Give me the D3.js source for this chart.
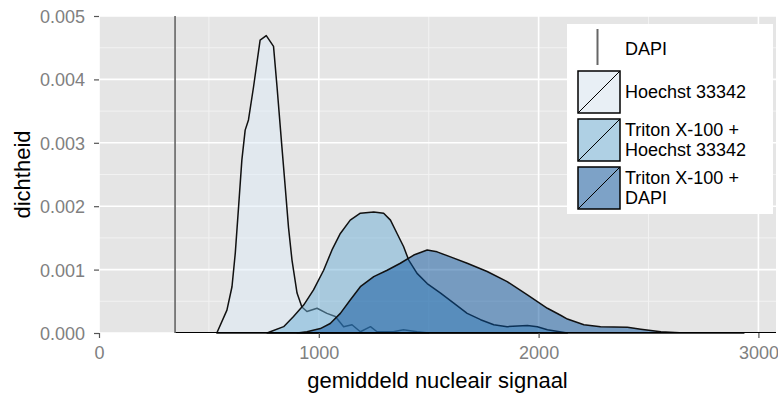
<!DOCTYPE html>
<html>
<head>
<meta charset="utf-8">
<script src="https://cdn.jsdelivr.net/npm/d3@7"></script>
<style>
  body { margin: 0; background: #fff; }
  text { font-family: "Liberation Sans", Arial, sans-serif; }
</style>
</head>
<body>
<svg id="chart" width="778" height="396"></svg>
<script>
// data
var seriesNames = ["Hoechst 33342", "Triton X-100 + Hoechst 33342", "Triton X-100 + DAPI"];
var seriesColors = ["#deebf7", "#6baed6", "#08519c"];
var dapiLine = 346;

var hoechstX = [536, 582, 605, 620, 635, 650, 665, 680, 703, 733, 761, 794, 810, 832, 847, 862, 878, 901, 923, 946, 992, 1037, 1075, 1113, 1151, 1189, 1235, 1265, 1339, 1385, 1447, 1500];
var hoechstY = [0, 0.00036, 0.00073, 0.00126, 0.00199, 0.00273, 0.00320, 0.00336, 0.00388, 0.00462, 0.00469, 0.00452, 0.00388, 0.00294, 0.00231, 0.00167, 0.00115, 0.00063, 0.00041, 0.00034, 0.00039, 0.00031, 0.00026, 0.00010, 0.00013, 0.00002, 0.00010, 0.00002, 0.00002, 0.00005, 0.00002, 0];

var tritonHoechstX = [765, 779, 840, 885, 931, 976, 1022, 1060, 1098, 1143, 1189, 1250, 1295, 1326, 1356, 1386, 1409, 1447, 1493, 1554, 1614, 1675, 1736, 1796, 1857, 1949, 1994, 2040, 2131];
var tritonHoechstY = [0, 0.00002, 0.00010, 0.00026, 0.00044, 0.00068, 0.00099, 0.00131, 0.00157, 0.00178, 0.00189, 0.00191, 0.00189, 0.00178, 0.00157, 0.00136, 0.00115, 0.00094, 0.00078, 0.00063, 0.00047, 0.00031, 0.00021, 0.00013, 0.00010, 0.00012, 0.00010, 0.00005, 0];

var tritonDapiX = [902, 946, 1007, 1052, 1098, 1143, 1189, 1250, 1311, 1371, 1432, 1493, 1538, 1599, 1675, 1766, 1857, 1949, 2040, 2100, 2131, 2206, 2282, 2404, 2465, 2556, 2662, 2934];
var tritonDapiY = [0, 0.00002, 0.00007, 0.00015, 0.00031, 0.00052, 0.00073, 0.00089, 0.00099, 0.00110, 0.00123, 0.00131, 0.00128, 0.00120, 0.00110, 0.00097, 0.00081, 0.00060, 0.00039, 0.00028, 0.00022, 0.00013, 0.00010, 0.00009, 0.00006, 0.00002, 0, 0];

var xTicks = [0, 1000, 2000, 3000];
var xMinor = [500, 1500, 2500];
var yTicks = [0, 0.001, 0.002, 0.003, 0.004, 0.005];
var yMinor = [0.0005, 0.0015, 0.0025, 0.0035, 0.0045];

var panel = { left: 99, right: 776, top: 16, bottom: 333 };

var svg = d3.select("#chart");

var xScale = d3.scaleLinear()
  .domain([0, 3080])
  .range([panel.left, panel.right]);
var yScale = d3.scaleLinear()
  .domain([0, 0.005])
  .range([panel.bottom, panel.top]);

// panel background + grid
svg.append("rect")
  .attr("x", panel.left)
  .attr("y", panel.top)
  .attr("width", panel.right - panel.left)
  .attr("height", panel.bottom - panel.top)
  .attr("fill", "#e5e5e5");

var grid = svg.append("g");
grid.selectAll(".ymin").data(yMinor).enter().append("line")
  .attr("x1", panel.left).attr("x2", panel.right)
  .attr("y1", d => yScale(d)).attr("y2", d => yScale(d))
  .attr("stroke", "#f2f2f2").attr("stroke-width", 1);
grid.selectAll(".xmin").data(xMinor).enter().append("line")
  .attr("y1", panel.top).attr("y2", panel.bottom)
  .attr("x1", d => xScale(d)).attr("x2", d => xScale(d))
  .attr("stroke", "#f2f2f2").attr("stroke-width", 1);
grid.selectAll(".ymaj").data(yTicks).enter().append("line")
  .attr("x1", panel.left).attr("x2", panel.right)
  .attr("y1", d => yScale(d)).attr("y2", d => yScale(d))
  .attr("stroke", "#fff").attr("stroke-width", 1.6);
grid.selectAll(".xmaj").data(xTicks).enter().append("line")
  .attr("y1", panel.top).attr("y2", panel.bottom)
  .attr("x1", d => xScale(d)).attr("x2", d => xScale(d))
  .attr("stroke", "#fff").attr("stroke-width", 1.6);

// densities
var allX = [hoechstX, tritonHoechstX, tritonDapiX];
var allY = [hoechstY, tritonHoechstY, tritonDapiY];

var area = d3.area()
  .x(d => xScale(d[0]))
  .y0(yScale(0))
  .y1(d => yScale(d[1]));

var dens = svg.append("g");
allX.forEach(function(xs, i) {
  var pts = xs.map((x, j) => [x, allY[i][j]]);
  dens.append("path")
    .datum(pts)
    .attr("d", d => area(d) + "Z")
    .attr("fill", seriesColors[i])
    .attr("fill-opacity", 0.5)
    .attr("stroke", "#111")
    .attr("stroke-width", 1.5)
    .attr("stroke-linejoin", "round");
});

// DAPI
svg.append("line")
  .attr("x1", xScale(dapiLine)).attr("x2", panel.right)
  .attr("y1", yScale(0) - 0.5).attr("y2", yScale(0) - 0.5)
  .attr("stroke", "#000").attr("stroke-width", 1);
svg.append("line")
  .attr("x1", xScale(dapiLine)).attr("x2", xScale(dapiLine))
  .attr("y1", panel.top).attr("y2", panel.bottom)
  .attr("stroke", "#666").attr("stroke-width", 1.6);

// axes
var xAxis = svg.append("g")
  .attr("transform", `translate(0, ${panel.bottom})`)
  .call(d3.axisBottom(xScale).tickValues(xTicks).tickSize(5).tickPadding(8).tickFormat(d3.format("d")));
var yAxis = svg.append("g")
  .attr("transform", `translate(${panel.left}, 0)`)
  .call(d3.axisLeft(yScale).tickValues(yTicks).tickSize(5).tickPadding(9).tickFormat(d3.format(".3f")));

[xAxis, yAxis].forEach(function(ax) {
  ax.select(".domain").remove();
  ax.selectAll(".tick line").attr("stroke", "#555").attr("stroke-width", 1.2);
  ax.selectAll(".tick text")
    .attr("fill", "#808080")
    .style("font-size", "18px")
    .style("font-family", "'Liberation Sans', Arial, sans-serif");
});
yAxis.selectAll(".tick text").attr("dy", "0.36em");

svg.append("text")
  .attr("x", (panel.left + panel.right) / 2)
  .attr("y", 388)
  .attr("text-anchor", "middle")
  .style("font-size", "22px")
  .text("gemiddeld nucleair signaal");

svg.append("text")
  .attr("transform", `translate(30, ${(panel.top + panel.bottom) / 2}) rotate(-90)`)
  .attr("text-anchor", "middle")
  .style("font-size", "22px")
  .text("dichtheid");

// legend
var legend = svg.append("g");
legend.append("rect")
  .attr("x", 567).attr("y", 24)
  .attr("width", 206).attr("height", 190)
  .attr("fill", "#fff");

legend.append("line")
  .attr("x1", 597.5).attr("x2", 597.5)
  .attr("y1", 29).attr("y2", 65)
  .attr("stroke", "#666").attr("stroke-width", 2);
legend.append("text")
  .attr("x", 625).attr("y", 49).attr("dy", "0.36em")
  .style("font-size", "18px")
  .text("DAPI");

var keyTops = [71, 119, 167];
var keyLabels = [["Hoechst 33342"], ["Triton X-100 +", "Hoechst 33342"], ["Triton X-100 +", "DAPI"]];
var keySize = 42;

seriesNames.forEach(function(name, i) {
  var k = legend.append("g").attr("transform", `translate(578, ${keyTops[i]})`);
  k.append("rect")
    .attr("width", keySize).attr("height", keySize)
    .attr("fill", "#f2f2f2");
  k.append("rect")
    .attr("width", keySize).attr("height", keySize)
    .attr("fill", seriesColors[i]).attr("fill-opacity", 0.5)
    .attr("stroke", "#000").attr("stroke-width", 1.5);
  k.append("line")
    .attr("x1", 0).attr("y1", keySize)
    .attr("x2", keySize).attr("y2", 0)
    .attr("stroke", "#000").attr("stroke-width", 1);
  var lines = keyLabels[i];
  var cy = keyTops[i] + keySize / 2;
  lines.forEach(function(t, j) {
    legend.append("text")
      .attr("x", 625)
      .attr("y", cy + (j - (lines.length - 1) / 2) * 20)
      .attr("dy", "0.36em")
      .style("font-size", "18px")
      .text(t);
  });
});
</script>
</body>
</html>
